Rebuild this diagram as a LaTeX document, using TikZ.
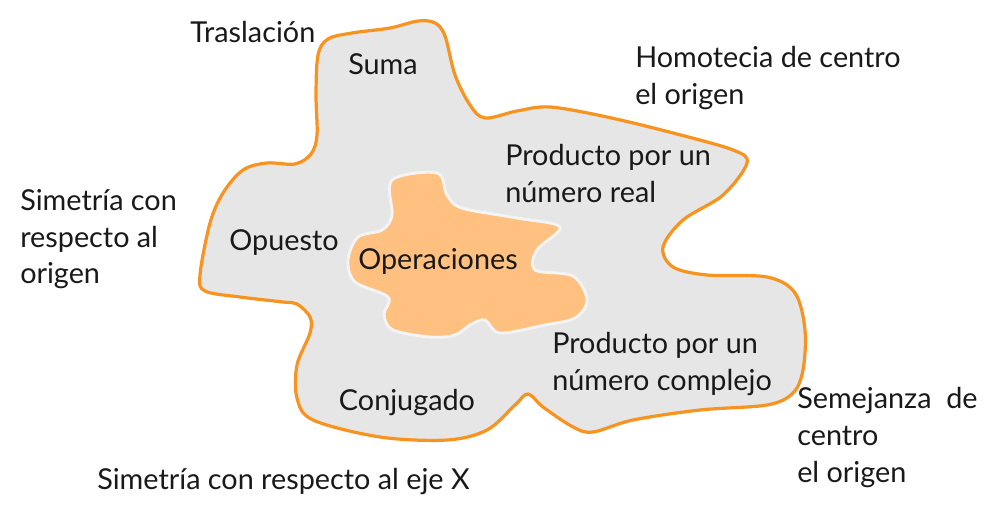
\documentclass[tikz,border=0pt]{standalone}
\usepackage{fontspec}
\setmainfont{Lato}
\definecolor{blobOrange}{HTML}{F7931E}
\definecolor{blobGray}{HTML}{E6E6E6}
\definecolor{corePeach}{HTML}{FFC080}
\definecolor{coreEdge}{HTML}{F4F4F4}
\usetikzlibrary{positioning}

\begin{document}
\begin{tikzpicture}[
    x=0.75pt, y=-0.75pt,
    lbl/.style={font=\fontsize{21.6}{27.6}\selectfont, inner sep=0pt, text=black!90},
    multi/.style={lbl, align=left, anchor=north west},
    outerblob/.style={fill=blobGray, draw=blobOrange, line width=2.4pt},
    innerblob/.style={fill=corePeach, draw=coreEdge, line width=2.2pt}
]
\useasboundingbox (0,0) rectangle (996,518);
% transformaciones (fuera)
\draw[outerblob] plot[smooth cycle, tension=0.55] coordinates {
  (316,95) (318,55) (328,39) (352,33) (390,28) (418,21) (435,23) (445,36) (455,75)
  (470,105) (485,118) (517,111) (550,107) (607,117) (673,133) (733,150) (747,163)
  (723,195) (683,220) (663,247) (673,267) (707,275) (767,277) (795,293) (805,330)
  (803,370) (793,393) (767,405) (700,410) (633,420) (593,432) (573,427) (543,407)
  (528,394) (515,405) (487,430) (447,440) (380,437) (313,420) (297,398) (297,365)
  (310,333) (310,317) (297,304) (283,302) (240,297) (205,291) (200,275) (210,223)
  (223,193) (243,170) (267,163) (295,164) (311,154) (317,135)};
% operaciones (dentro)
\draw[innerblob] plot[smooth cycle, tension=0.55] coordinates {
  (392,180) (437,173) (447,195) (462,208) (517,218) (560,227) (537,250) (535,270)
  (573,276) (587,300) (575,318) (545,325) (500,333) (485,320) (470,325) (455,335)
  (430,337) (393,330) (384,315) (388,297) (355,282) (348,260) (358,237) (382,230)
  (392,215)};

\node[lbl] (ops) at (438,261) {Operaciones};
\node[lbl] (suma) at (383,64) {Suma};
\node[lbl] (opuesto) at (284,243) {Opuesto};
\node[lbl] (conj) at (407,403) {Conjugado};
\node[multi] (preal) at (505,144) {Producto por un\\número real};
\node[multi] (pcomp) at (552,332) {Producto por un\\número complejo};

\node[lbl, anchor=west] (trasl) at (190,32) {Traslación};
\node[multi] (homot) at (635,46) {Homotecia de centro\\el origen};
\node[multi] (simorig) at (20,189) {Simetría con\\respecto al\\origen};
\node[multi] (semej) at (797,387) {Semejanza\ \ de\\centro\\el origen};
\node[lbl, anchor=west] (simx) at (97,482) {Simetría con respecto al eje X};
\end{tikzpicture}
\end{document}
